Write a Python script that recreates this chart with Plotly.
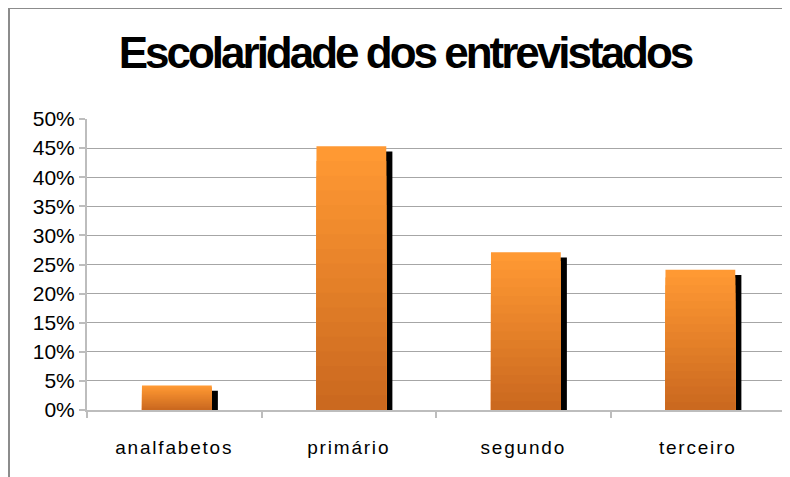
import plotly.graph_objects as go

categories = ["analfabetos", "primário", "segundo", "terceiro"]
values = [4.2, 45.3, 27.1, 24.1]  # percent
tick_vals = [0, 5, 10, 15, 20, 25, 30, 35, 40, 45, 50]
tick_text = [f"{v}%" for v in tick_vals]
title_text = "Escolaridade dos entrevistados"

BAR_W = 0.40
BAR_SHIFT = 0.015
SHADOW_DX = 0.035
SHADOW_DY = 0.9
N_LAYERS = 18
light = (255, 153, 51)
dark = (200, 102, 30)


def mix(k):
    return "rgb(%d,%d,%d)" % tuple(round(d + (l - d) * k) for l, d in zip(light, dark))


fig = go.Figure()

# shadow
fig.add_trace(go.Bar(
    x=categories, y=[max(v - SHADOW_DY, 0) for v in values],
    width=BAR_W, offset=-BAR_W / 2 + BAR_SHIFT + SHADOW_DX,
    marker=dict(color="black", line=dict(width=0)),
    hoverinfo="skip", showlegend=False,
))

# gradient bars (stacked layers from full height down)
for i in range(N_LAYERS):
    k = 1 - i / N_LAYERS
    fig.add_trace(go.Bar(
        x=categories, y=[v * k for v in values],
        width=BAR_W, offset=-BAR_W / 2 + BAR_SHIFT,
        marker=dict(color=mix(k), line=dict(width=0)),
        hoverinfo="skip", showlegend=False,
    ))

ML, MT, PW, PH = 79, 111, 698, 291
fig.update_layout(
    width=790, height=477,
    barmode="overlay",
    paper_bgcolor="white", plot_bgcolor="white",
    margin=dict(l=ML, r=790 - ML - PW, t=MT, b=477 - MT - PH, autoexpand=False),
    font=dict(family="Liberation Sans, Arial, sans-serif", color="black"),
    title=dict(
        text=f'<span style="letter-spacing:-3px"><b>{title_text}</b></span>',
        x=(397 - ML) / PW, xref="paper", xanchor="center",
        y=1 - 45 / 477, yref="container", yanchor="middle",
        font=dict(family="Liberation Sans, Arial", size=44, color="black"),
    ),
    showlegend=False,
)

fig.update_yaxes(
    range=[0, 50], tickvals=tick_vals, ticktext=tick_text,
    showgrid=True, gridcolor="#A6A6A6", gridwidth=1.3,
    showline=True, linecolor="#BDBDBD", linewidth=2,
    ticks="outside", ticklen=6, tickcolor="#BDBDBD", tickwidth=1.5,
    tickfont=dict(size=21, color="black"),
    zeroline=False, fixedrange=True,
)
fig.update_xaxes(
    tickvals=categories,
    ticktext=[f'<span style="letter-spacing:1.8px">{c}</span>' for c in categories],
    showline=True, linecolor="#BDBDBD", linewidth=2,
    ticks="outside", tickson="boundaries", ticklen=6, tickcolor="#BDBDBD", tickwidth=1.5,
    tickfont=dict(size=19, color="black"), ticklabelstandoff=19,
    showgrid=False, fixedrange=True,
)

# outer chart frame (figure edge)
fig.add_shape(type="rect", xref="paper", yref="paper",
              x0=(1 - ML) / PW, x1=1.2, y0=-0.6, y1=1 + MT / PH,
              line=dict(color="#8C8C8C", width=2), fillcolor="rgba(0,0,0,0)", layer="below")

fig.write_html("out.html")
